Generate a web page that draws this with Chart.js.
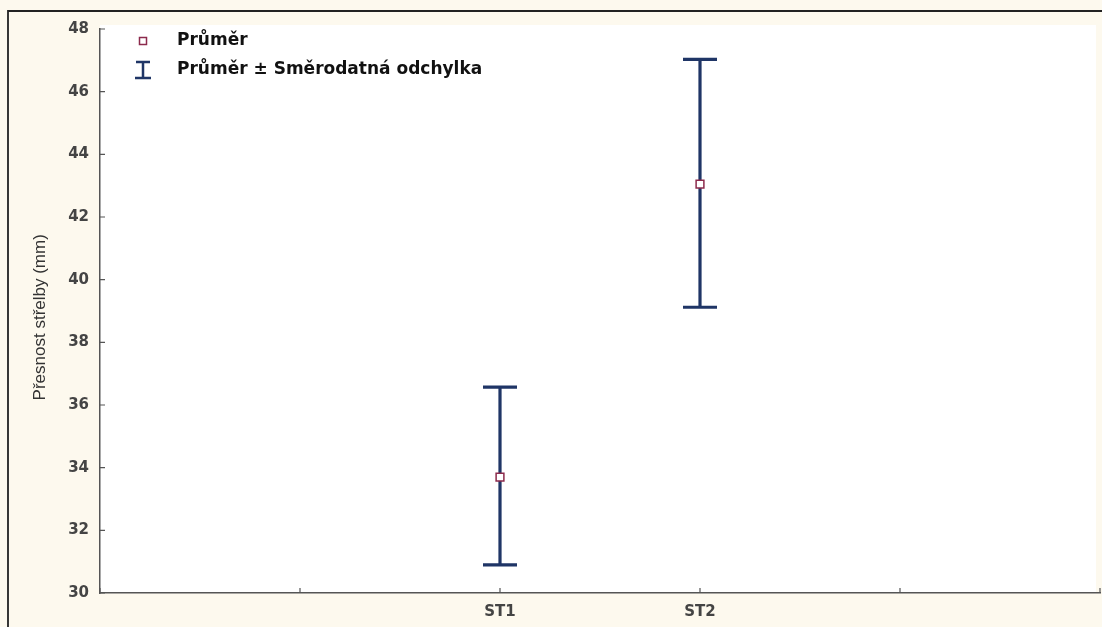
<!DOCTYPE html>
<html>
<head>
<meta charset="utf-8">
<script src="https://cdn.jsdelivr.net/npm/chart.js@4.4.1/dist/chart.umd.min.js"></script>
<style>
  html, body { margin: 0; padding: 0; background: #fdf9ee; }
  #wrap { width: 1102px; height: 627px; position: relative; }
</style>
</head>
<body>
<div id="wrap"><canvas id="chart"></canvas></div>
<script>
const groups = ['ST1', 'ST2'];
const groupPos = [2, 3];
const means = [33.7, 43.05];
const sdLow = [30.9, 39.12];
const sdHigh = [36.57, 47.03];
const yTicks = [30, 32, 34, 36, 38, 40, 42, 44, 46, 48];
const xTicks = [0, 1, 2, 3, 4, 5];
const legendLabels = ['Průměr', 'Průměr ± Směrodatná odchylka'];
const yTitle = 'Přesnost střelby (mm)';

const navy = '#1f3566';
const maroon = '#8c2a4c';

// cream page, white plot, frame lines
const backdrop = {
  id: 'backdrop',
  beforeDraw(chart) {
    const { ctx, chartArea } = chart;
    ctx.save();
    ctx.fillStyle = '#fdf9ee';
    ctx.fillRect(0, 0, chart.width, chart.height);
    ctx.fillStyle = '#ffffff';
    ctx.fillRect(chartArea.left, chartArea.top - 4, chartArea.right - chartArea.left - 4, chartArea.bottom - chartArea.top + 4);
    ctx.strokeStyle = '#222';
    ctx.lineWidth = 1.8;
    ctx.beginPath();
    ctx.moveTo(8, chart.height);
    ctx.lineTo(8, 11);
    ctx.lineTo(chart.width, 11);
    ctx.stroke();
    ctx.restore();
  },
};

// inward tick marks + y title
const innerTicks = {
  id: 'innerTicks',
  afterDraw(chart) {
    const { ctx, chartArea, scales } = chart;
    ctx.save();
    ctx.strokeStyle = '#555';
    ctx.lineWidth = 1.2;
    ctx.beginPath();
    yTicks.forEach(v => {
      const y = scales.y.getPixelForValue(v);
      ctx.moveTo(chartArea.left, y);
      ctx.lineTo(chartArea.left + 5, y);
    });
    xTicks.forEach(v => {
      const x = scales.x.getPixelForValue(v);
      ctx.moveTo(x, chartArea.bottom);
      ctx.lineTo(x, chartArea.bottom - 5);
    });
    ctx.stroke();

    // axis title, sits a bit below the plot middle
    ctx.translate(40, scales.y.getPixelForValue(38.8));
    ctx.rotate(-Math.PI / 2);
    ctx.fillStyle = '#333';
    ctx.font = '17px "Liberation Sans Narrow", "Liberation Sans"';
    ctx.textAlign = 'center';
    ctx.textBaseline = 'middle';
    ctx.fillText(yTitle, 0, 0);
    ctx.restore();
  },
};

// legend inside plot
const insideLegend = {
  id: 'insideLegend',
  afterDraw(chart) {
    const { ctx } = chart;
    const ix = 143;
    const tx = 177;
    const rows = [41, 70];
    ctx.save();
    // mean marker
    ctx.strokeStyle = maroon;
    ctx.fillStyle = '#fff';
    ctx.lineWidth = 1.5;
    ctx.fillRect(ix - 3.5, rows[0] - 3.5, 7, 7);
    ctx.strokeRect(ix - 3.5, rows[0] - 3.5, 7, 7);
    // error bar icon
    ctx.strokeStyle = navy;
    ctx.lineWidth = 2.5;
    ctx.beginPath();
    ctx.moveTo(ix, rows[1] - 8);
    ctx.lineTo(ix, rows[1] + 8);
    ctx.moveTo(ix - 7, rows[1] - 8);
    ctx.lineTo(ix + 7, rows[1] - 8);
    ctx.moveTo(ix - 8, rows[1] + 8);
    ctx.lineTo(ix + 8, rows[1] + 8);
    ctx.stroke();
    ctx.fillStyle = '#111';
    ctx.font = 'bold 17px "DejaVu Sans"';
    ctx.textBaseline = 'middle';
    legendLabels.forEach((t, i) => ctx.fillText(t, tx, rows[i]));
    ctx.restore();
  },
};

const ctxEl = document.getElementById('chart').getContext('2d');

const meanSet = {
  type: 'scatter',
  label: legendLabels[0],
  data: groupPos.map((x, i) => ({ x: x, y: means[i] })),
  pointStyle: 'rect',
  pointRadius: 5.5,
  pointBorderWidth: 1.5,
  pointBorderColor: maroon,
  pointBackgroundColor: '#fff',
};

const barSets = groupPos.map((x, i) => ({
  type: 'line',
  label: legendLabels[1],
  data: [{ x: x, y: sdLow[i] }, { x: x, y: sdHigh[i] }],
  borderColor: navy,
  borderWidth: 3.2,
  pointStyle: 'line',
  pointRadius: 17,
  pointBorderWidth: 3.2,
  pointBorderColor: navy,
}));

const tickFont = { family: '"DejaVu Sans"', size: 15, weight: 'bold' };

const chart = new Chart(ctxEl, {
  type: 'scatter',
  data: { datasets: [meanSet, ...barSets] },
  options: {
    responsive: true,
    maintainAspectRatio: false,
    animation: false,
    layout: { autoPadding: false, padding: { top: 29, right: 2, left: 0, bottom: 0 } },
    plugins: {
      legend: { display: false },
      tooltip: { enabled: false },
    },
    scales: {
      x: {
        type: 'linear',
        min: 0,
        max: 5,
        afterBuildTicks: s => { s.ticks = xTicks.map(v => ({ value: v })); },
        afterFit: s => { s.height = 34; s.paddingLeft = 0; s.paddingRight = 0; },
        grid: { display: true, drawOnChartArea: false, drawTicks: false },
        border: { color: '#555', width: 1.5 },
        ticks: {
          padding: 10,
          color: '#444',
          font: tickFont,
          callback: v => {
            const i = groupPos.indexOf(v);
            return i >= 0 ? groups[i] : '';
          },
        },
      },
      y: {
        type: 'linear',
        min: 30,
        max: 48,
        afterBuildTicks: s => { s.ticks = yTicks.map(v => ({ value: v })); },
        afterFit: s => { s.width = 100; },
        grid: { display: true, drawOnChartArea: false, drawTicks: false },
        border: { color: '#555', width: 1.5 },
        ticks: {
          padding: 11,
          color: '#444',
          font: tickFont,
        },
      },
    },
  },
  plugins: [backdrop, innerTicks, insideLegend],
});
</script>
</body>
</html>
